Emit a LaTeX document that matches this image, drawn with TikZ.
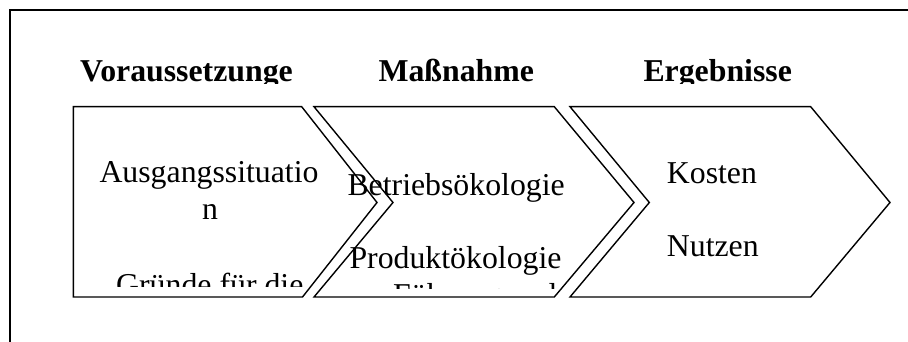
\documentclass[tikz,border=0pt]{standalone}
\usepackage{fontspec}
\setmainfont{Liberation Serif}
\begin{document}
\begin{tikzpicture}[x=1pt,y=-1pt,
  chev/.style={draw=black, line width=1.4pt, line join=miter},
  framebox/.style={draw=black, line width=2pt},
  head/.style={font=\fontsize{31.8}{36}\selectfont\bfseries, anchor=base west, inner sep=0pt},
  body/.style={font=\fontsize{31.8}{36}\selectfont, anchor=base west, inner sep=0pt}]
\useasboundingbox (0,0) rectangle (908,342);
\begin{scope}
  \clip (0,0) rectangle (908,342);
  \draw[framebox] (10,360) -- (10,10) -- (930,10);
\end{scope}
% chevrons
\draw[chev] (73.3,106.7) -- (301.7,106.7) -- (377,202.5) -- (302.5,297) -- (73.3,297) -- cycle;
\draw[chev] (314,106.7) -- (554.3,106.7) -- (634,202.5) -- (554.3,297) -- (314,297) -- (393,202.5) -- cycle;
\draw[chev] (570,106.7) -- (810.7,106.7) -- (890,202.5) -- (810.7,297) -- (570,297) -- (649.3,202.5) -- cycle;
% headings
\begin{scope}
  \clip (0,0) rectangle (908,83.4);
  \node[head] (h1) at (80,81.7) {Voraussetzunge};
  \node[head] (h2) at (378.3,81.7) {Maßnahme};
  \node[head] (h3) at (643.3,81.7) {Ergebnisse};
\end{scope}
% texts of box 1
\begin{scope}
  \clip (60,100) rectangle (340,286.7);
  \node[body] (t1a) at (99.3,182.7) {Ausgangssituatio};
  \node[body, anchor=base] (t1b) at (210,219.3) {n};
  \node[body] (t1c) at (116,295) {Gründe für die};
\end{scope}
% texts of box 2
\begin{scope}
  \clip (330,100) rectangle (600,288.8);
  \node[body] (t2a) at (347.3,195) {Betriebsökologie};
  \node[body] (t2b) at (349.3,268.3) {Produktökologie};
  \node[body] (t2c) at (393,305.2) {Führung und};
\end{scope}
% texts of box 3
\node[body] (t3a) at (666.7,183.3) {Kosten};
\node[body] (t3b) at (666.7,256) {Nutzen};
\end{tikzpicture}
\end{document}
